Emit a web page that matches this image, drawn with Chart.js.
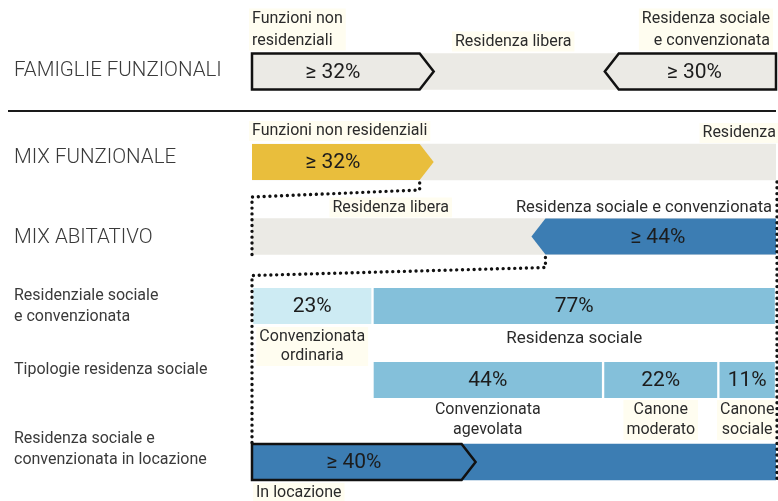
<!DOCTYPE html>
<html>
<head>
<meta charset="utf-8">
<script src="https://cdn.jsdelivr.net/npm/chart.js@4.4.1/dist/chart.umd.min.js"></script>
<style>
  html, body { margin: 0; padding: 0; background: #fff; }
  #wrap { width: 778px; height: 501px; position: relative; }
</style>
</head>
<body>
<div id="wrap"><canvas id="mixChart"></canvas></div>
<script>
// titoli delle righe (colonna di sinistra)
var rowTitles = [['FAMIGLIE FUNZIONALI'], ['MIX FUNZIONALE'], ['MIX ABITATIVO'],
  ['Residenziale sociale', 'e convenzionata'], ['Tipologie residenza sociale'],
  ['Residenza sociale e', 'convenzionata in locazione']];

// quote minime / ripartizioni (%)
var famiglie = [32, 30];
var famiglieLabels = [['Funzioni non', 'residenziali'], ['Residenza libera'], ['Residenza sociale', 'e convenzionata']];
var mixFunz = [32];
var mixFunzLabels = ['Funzioni non residenziali', 'Residenza'];
var mixAbit = [44];
var mixAbitLabels = ['Residenza libera', 'Residenza sociale e convenzionata'];
var socConv = [23, 77];
var socConvLabels = [['Convenzionata', 'ordinaria'], ['Residenza sociale']];
var tipologie = [44, 22, 11];
var tipologieLabels = [['Convenzionata', 'agevolata'], ['Canone', 'moderato'], ['Canone', 'sociale']];
var locazione = [40];
var locazioneLabels = ['In locazione'];

// impaginazione
var rowY = [71.5, 162, 236.5, 306, 380, 462];
var titleY = [71, 158, 238, 306, 370, 449];
var BAR_H = 36;
var TIP = 14;

var GRAY = '#ebeae5', YELLOW = '#e9be3c', BLUE = '#3c7db3', LBLUE = '#84c0da', PALE = '#cdebf3';
var INK = '#1c1c1c', TXT = '#2b2b2b', CREAM = '#fffdf0';
var FONT = 'Roboto, "Noto Sans", sans-serif';

// barre rettangolari
var rects = [], rectColors = [], rectTexts = [], rectGap = [];
function addRect(a, b, row, color, text, gap) {
  rects.push({ x: [a, b], y: rowY[row] });
  rectColors.push(color);
  rectTexts.push(text || '');
  rectGap.push(!!gap);
}
addRect(0, 100, 0, GRAY);
addRect(0, 100, 1, GRAY);
addRect(0, 100, 2, GRAY);
addRect(0, socConv[0], 3, PALE, socConv[0] + '%', true);
addRect(socConv[0], 100, 3, LBLUE, socConv[1] + '%', true);
var acc = socConv[0];
tipologie.forEach(function (v) {
  addRect(acc, acc + v, 4, LBLUE, v + '%', true);
  acc += v;
});
addRect(0, 100, 5, BLUE);

// frecce (dir 1 = verso destra, -1 = verso sinistra)
var arrows = [
  { x: [0, famiglie[0]], y: rowY[0], dir: 1, fill: GRAY, outline: true, text: '≥ ' + famiglie[0] + '%' },
  { x: [100 - famiglie[1], 100], y: rowY[0], dir: -1, fill: GRAY, outline: true, text: '≥ ' + famiglie[1] + '%' },
  { x: [0, mixFunz[0]], y: rowY[1], dir: 1, fill: YELLOW, outline: false, text: '≥ ' + mixFunz[0] + '%' },
  { x: [100 - mixAbit[0], 100], y: rowY[2], dir: -1, fill: BLUE, outline: false, text: '≥ ' + mixAbit[0] + '%' },
  { x: [0, locazione[0]], y: rowY[5], dir: 1, fill: BLUE, outline: true, text: '≥ ' + locazione[0] + '%' }
];

function textBlock(ctx, lines, x, y, lh, align, size, bg) {
  ctx.font = size + 'px ' + FONT;
  var w = 0;
  lines.forEach(function (l) { w = Math.max(w, ctx.measureText(l).width); });
  if (bg) {
    var left = align === 'left' ? x : align === 'right' ? x - w : x - w / 2;
    ctx.fillStyle = CREAM;
    ctx.fillRect(left - 3, y - 10, w + 6, (lines.length - 1) * lh + 20);
  }
  ctx.fillStyle = TXT;
  ctx.textAlign = align;
  ctx.textBaseline = 'middle';
  lines.forEach(function (l, i) { ctx.fillText(l, x, y + i * lh); });
}

function dotted(ctx, pts, spacing) {
  ctx.save();
  ctx.strokeStyle = '#111';
  ctx.lineWidth = 3.4;
  ctx.lineCap = 'round';
  ctx.setLineDash([0.01, spacing]);
  ctx.beginPath();
  pts.forEach(function (p, i) { i ? ctx.lineTo(p[0], p[1]) : ctx.moveTo(p[0], p[1]); });
  ctx.stroke();
  ctx.restore();
}

var schemaPlugin = {
  id: 'schema',
  beforeDatasetsDraw: function (chart) {
    var ctx = chart.ctx, px = function (v) { return chart.scales.x.getPixelForValue(v); };
    ctx.save();
    // titoli a sinistra
    rowTitles.forEach(function (t, i) {
      ctx.fillStyle = '#3a3a3a';
      ctx.textAlign = 'left';
      ctx.textBaseline = 'middle';
      ctx.font = (i < 3 ? '300 20.5px ' : '16px ') + FONT;
      t.forEach(function (l, j) { ctx.fillText(l, 14, titleY[i] + (j - (t.length - 1) / 2) * 21); });
    });
    // linea di separazione
    ctx.strokeStyle = '#1a1a1a';
    ctx.lineWidth = 2;
    ctx.beginPath(); ctx.moveTo(8, 111); ctx.lineTo(px(100), 111); ctx.stroke();

    // etichette sopra le barre
    var top0 = rowY[0] - BAR_H / 2;
    textBlock(ctx, famiglieLabels[0], px(0), top0 - 35, 22, 'left', 16, true);
    textBlock(ctx, famiglieLabels[1], px((famiglie[0] + 100 - famiglie[1]) / 2) - 6, top0 - 12, 22, 'center', 16, true);
    textBlock(ctx, famiglieLabels[2], px(100) - 6, top0 - 35, 22, 'right', 16, true);
    var top1 = rowY[1] - BAR_H / 2;
    textBlock(ctx, [mixFunzLabels[0]], px(0), top1 - 13, 20, 'left', 16, true);
    textBlock(ctx, [mixFunzLabels[1]], px(100), top1 - 11, 20, 'right', 16, true);
    var top2 = rowY[2] - BAR_H / 2;
    textBlock(ctx, [mixAbitLabels[0]], px((100 - mixAbit[0]) / 2) - 8, top2 - 11, 20, 'center', 16, true);
    textBlock(ctx, [mixAbitLabels[1]], px(100) - 4, top2 - 11, 20, 'right', 16.5, false);
    // etichette sotto le barre
    var bot3 = rowY[3] + BAR_H / 2;
    textBlock(ctx, socConvLabels[0], px(socConv[0] / 2), bot3 + 13, 19, 'center', 16, true);
    textBlock(ctx, socConvLabels[1], px(socConv[0] + socConv[1] / 2), bot3 + 15, 19, 'center', 17, false);
    var bot4 = rowY[4] + BAR_H / 2, a = socConv[0];
    tipologie.forEach(function (v, i) {
      textBlock(ctx, tipologieLabels[i], px(a + v / 2), bot4 + 12, 20, 'center', 16, i > 0);
      a += v;
    });
    var bot5 = rowY[5] + BAR_H / 2;
    textBlock(ctx, locazioneLabels, px(0) + 4, bot5 + 13, 20, 'left', 16, true);
    ctx.restore();
  },
  afterDatasetsDraw: function (chart) {
    var ctx = chart.ctx, px = function (v) { return chart.scales.x.getPixelForValue(v); };
    ctx.save();
    // frecce
    chart.getDatasetMeta(1).data.forEach(function (el, i) {
      var s = arrows[i], x0 = el.base, x1 = el.x, t = el.y - el.height / 2, b = el.y + el.height / 2;
      ctx.beginPath();
      if (s.dir > 0) {
        ctx.moveTo(x0, t); ctx.lineTo(x1, t); ctx.lineTo(x1 + TIP, el.y); ctx.lineTo(x1, b); ctx.lineTo(x0, b);
      } else {
        ctx.moveTo(x1, t); ctx.lineTo(x0, t); ctx.lineTo(x0 - TIP, el.y); ctx.lineTo(x0, b); ctx.lineTo(x1, b);
      }
      ctx.closePath();
      ctx.fillStyle = s.fill;
      ctx.fill();
      if (s.outline) {
        ctx.strokeStyle = '#111';
        ctx.lineWidth = 2.5;
        ctx.lineJoin = 'miter';
        ctx.stroke();
      }
      ctx.fillStyle = INK;
      ctx.font = '21px ' + FONT;
      ctx.textAlign = 'center';
      ctx.textBaseline = 'middle';
      ctx.fillText(s.text, (x0 + x1) / 2 - 3, el.y + 1);
    });
    // valori nelle barre rettangolari
    chart.getDatasetMeta(0).data.forEach(function (el, i) {
      if (!rectTexts[i]) return;
      ctx.fillStyle = INK;
      ctx.font = '21px ' + FONT;
      ctx.textAlign = 'center';
      ctx.textBaseline = 'middle';
      ctx.fillText(rectTexts[i], (el.base + el.x) / 2, el.y + 1);
    });
    // connessioni tratteggiate
    var b1 = rowY[1] + BAR_H / 2, b2 = rowY[2] + BAR_H / 2, t5 = rowY[5] - BAR_H / 2, b5 = rowY[5] + BAR_H / 2;
    var xm = px(mixFunz[0]), xa = px(100 - mixAbit[0]), xl = px(0), xr = px(100) + 1;
    dotted(ctx, [[xm, b1 + 3], [xm, b1 + 10], [xl, b1 + 17], [xl, b2 + 1]], 5.8);
    dotted(ctx, [[xa, b2 + 3], [xa, b2 + 13], [xl, b2 + 21], [xl, t5 - 1]], 5.8);
    dotted(ctx, [[xr, b1 + 2], [xr, b5]], 5.8);
    ctx.restore();
  }
};

var ctx = document.getElementById('mixChart').getContext('2d');
var chart = new Chart(ctx, {
  type: 'bar',
  data: {
    datasets: [{
      data: rects,
      backgroundColor: rectColors,
      borderColor: '#ffffff',
      borderSkipped: false,
      borderWidth: function (c) { return rectGap[c.dataIndex] ? { left: 1.5, right: 1.5, top: 0, bottom: 0 } : 0; },
      barThickness: BAR_H,
      grouped: false
    }, {
      data: arrows.map(function (s) { return { x: s.x, y: s.y }; }),
      backgroundColor: 'rgba(0,0,0,0)',
      barThickness: BAR_H,
      grouped: false
    }]
  },
  options: {
    indexAxis: 'y',
    responsive: true,
    maintainAspectRatio: false,
    animation: false,
    layout: { padding: { left: 252, right: 2, top: 0, bottom: 0 } },
    scales: {
      x: { type: 'linear', min: 0, max: 100, display: false },
      y: { type: 'linear', min: 0, max: 501, reverse: true, offset: false, display: false }
    },
    plugins: { legend: { display: false }, tooltip: { enabled: false } }
  },
  plugins: [schemaPlugin]
});
</script>
</body>
</html>
